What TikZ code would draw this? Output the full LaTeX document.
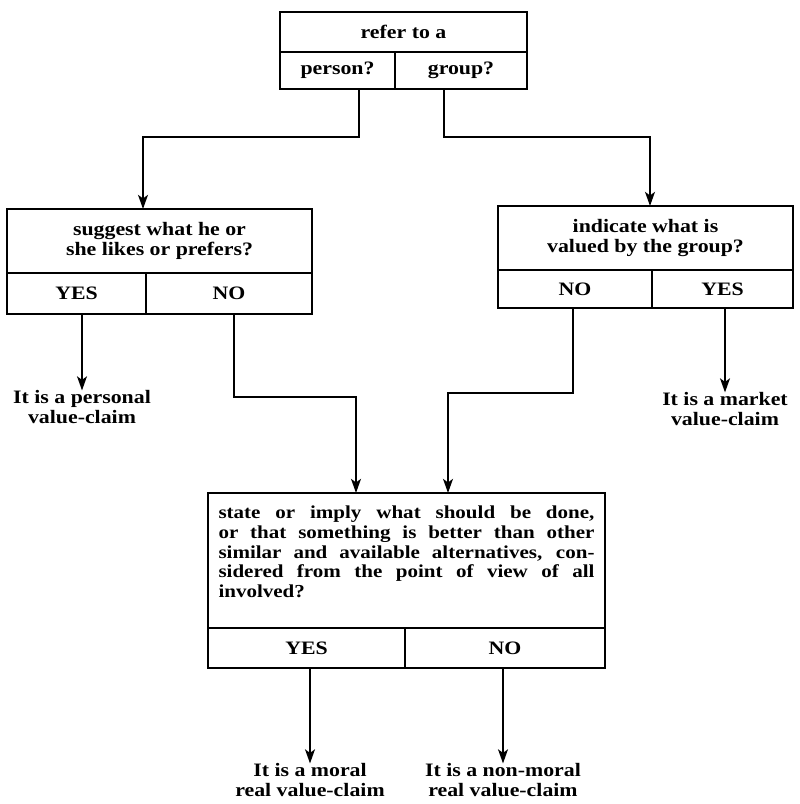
\documentclass[tikz,border=0pt]{standalone}
\usepackage{fontspec}
\setmainfont{Liberation Serif}[FakeStretch=1.15]
\usepackage{tikz}
\usetikzlibrary{arrows.meta}

\begin{document}
\begin{tikzpicture}[x=0.025cm, y=-0.025cm,
  every node/.style={font=\fontsize{13.5}{14}\selectfont\bfseries, inner sep=0pt, outer sep=0pt},
  cell/.style 2 args={draw, line width=0.8pt, minimum width=#1*0.025cm, minimum height=#2*0.025cm, align=center},
  answer/.style={align=center},
  link/.style={->, >={Stealth[length=10pt,width=7pt,inset=2.5pt]}, line width=1.5pt}]
  \useasboundingbox (0,0) rectangle (800,804);
  % Top question
  \node[cell={247}{40}] (refer) at (403.5,32) {refer to a};
  \node[cell={115}{37}] (person) at (337.5,70.5) {person?};
  \node[cell={132}{37}] (group) at (461,70.5) {group?};
  % Person branch
  \node[cell={305}{64}] (likes) at (159.5,241) {suggest what he or\\she likes or prefers?};
  \node[cell={139}{41}] (yes1) at (76.5,293.5) {YES};
  \node[cell={166}{41}] (no1) at (229,293.5) {NO};
  % Group branch
  \node[cell={295}{64}] (valued) at (645.5,238) {indicate what is\\valued by the group?};
  \node[cell={154}{38}] (no2) at (575,289) {NO};
  \node[cell={141}{38}] (yes2) at (722.5,289) {YES};
  % Bottom question
  \node[cell={397}{135}, text width=376*0.025cm, align=justify,
        font=\fontsize{13}{14}\selectfont\bfseries] (should) at (406.5,560.5)
    {state or imply what should be done,\linebreak
     or that something is better than other\linebreak
     similar and available alternatives, con-\linebreak
     sidered from the point of view of all\linebreak
     involved?\par\vspace{12pt}\nointerlineskip\hbox{}};
  \node[cell={197}{40}] (yes3) at (306.5,648) {YES};
  \node[cell={200}{40}] (no3) at (505,648) {NO};
  % Outcomes
  \node[answer] (personal) at (82,407) {It is a personal\\value-claim};
  \node[answer] (market) at (725,409) {It is a market\\value-claim};
  \node[answer] (moral) at (310,780) {It is a moral\\real value-claim};
  \node[answer] (nonmoral) at (503,780) {It is a non-moral\\real value-claim};
  % Bend points
  \coordinate (t1) at (359,137);
  \coordinate (t2) at (143,137);
  \coordinate (t3) at (444,137);
  \coordinate (t4) at (650,137);
  \coordinate (t5) at (234,397);
  \coordinate (t6) at (356,397);
  \coordinate (t7) at (573,393);
  \coordinate (t8) at (448,393);
  % Connectors
  \draw[link] (person.south -| t1) -- (t1) -- (t2) -- (likes.north -| t2);
  \draw[link] (group.south -| t3) -- (t3) -- (t4) -- (valued.north -| t4);
  \draw[link] (yes1.south -| personal.north) -- (personal.north);
  \draw[link] (yes2.south -| market.north) -- (market.north);
  \draw[link] (no1.south -| t5) -- (t5) -- (t6) -- (should.north -| t6);
  \draw[link] (no2.south -| t7) -- (t7) -- (t8) -- (should.north -| t8);
  \draw[link] (yes3.south -| moral.north) -- (moral.north);
  \draw[link] (no3.south -| nonmoral.north) -- (nonmoral.north);
\end{tikzpicture}
\end{document}
